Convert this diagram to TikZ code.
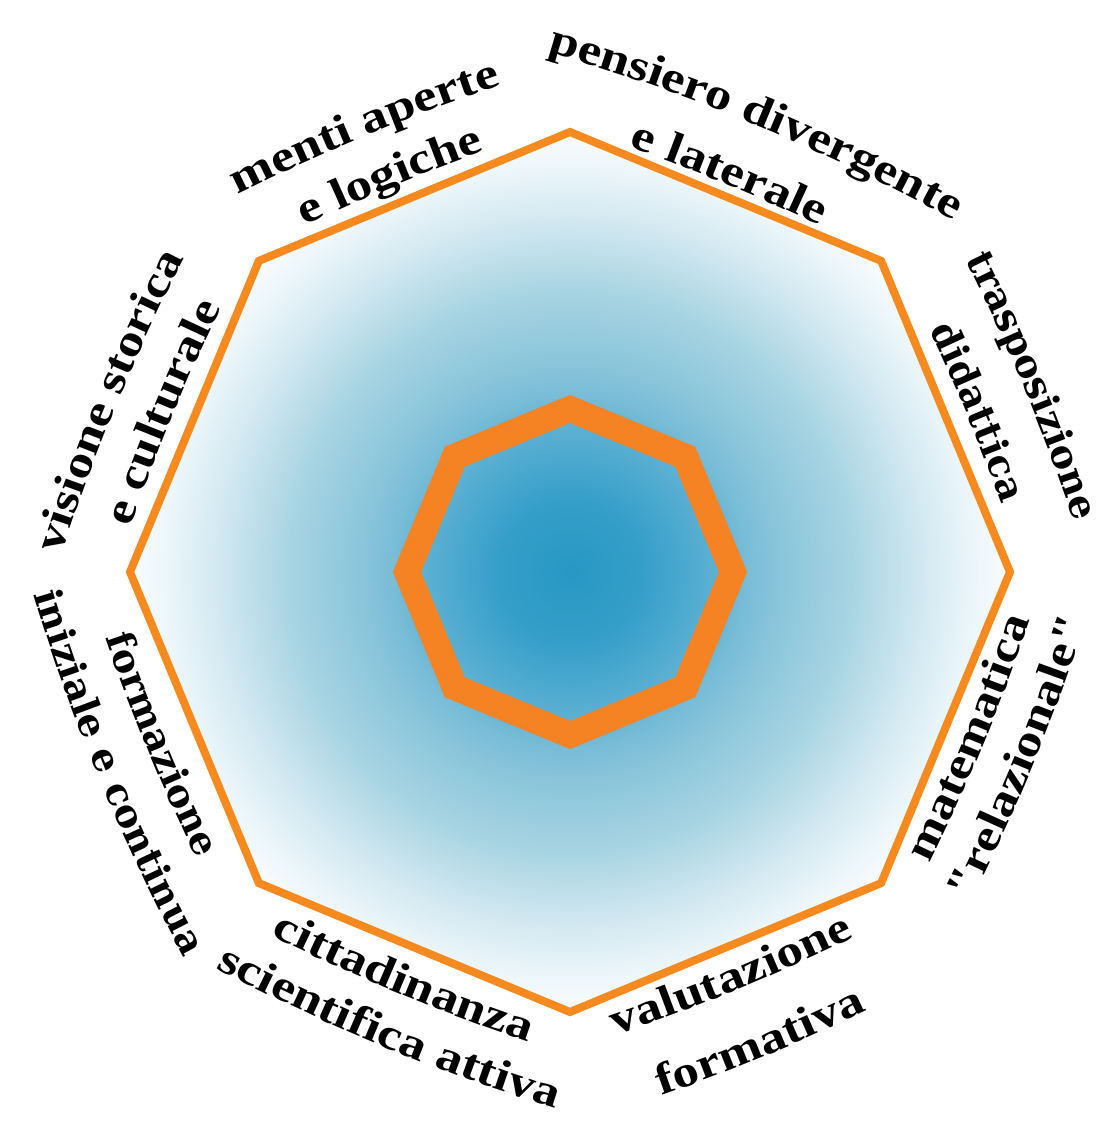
\documentclass[tikz,border=0pt]{standalone}
\usepackage{fontspec}
\usetikzlibrary{decorations.text}
\newfontfamily\labfontA[FakeStretch=1.2]{Liberation Serif}
\newfontfamily\labfontB{DejaVu Serif}
\newcommand\fA{\labfontA\bfseries\fontsize{44}{50}\selectfont}
\newcommand\fB{\labfontB\bfseries\fontsize{38}{44}\selectfont}
\definecolor{octorange}{RGB}{246,138,30}
\definecolor{innerorange}{RGB}{245,130,35}
\definecolor{shA}{RGB}{40,152,196}
\definecolor{shB}{RGB}{52,158,200}
\definecolor{shC}{RGB}{90,175,210}
\definecolor{shI}{RGB}{120,188,214}
\definecolor{shD}{RGB}{138,197,218}
\definecolor{shE}{RGB}{168,212,226}
\definecolor{shF}{RGB}{210,232,240}
\definecolor{shG}{RGB}{236,246,250}
\definecolor{shH}{RGB}{250,252,253}
\pgfdeclareradialshading{octshade}{\pgfpoint{0bp}{0bp}}{color(0bp)=(shA); color(4bp)=(shB); color(8bp)=(shC); color(10bp)=(shI); color(12bp)=(shD); color(16bp)=(shE); color(20bp)=(shF); color(23bp)=(shG); color(25bp)=(shH); color(50bp)=(white)}
\newcommand\rr{2000}
\newcommand\ph{9}
% upper labels: text runs clockwise, letter tops point outward
\newcommand\upperlabel[5]{%
  \begin{scope}[rotate=#1-90]
    \path[decorate, decoration={text along path, text align=center, text={|#4|#5}}]
      (#3, #2-\rr) ++(90+\ph:\rr) arc[start angle=90+\ph, end angle=90-\ph, radius=\rr];
  \end{scope}}
% lower labels: text runs counter-clockwise, letter tops point inward
\newcommand\lowerlabel[5]{%
  \begin{scope}[rotate=#1+90]
    \path[decorate, decoration={text along path, text align=center, text={|#4|#5}}]
      (#3, \rr-#2) ++(-90-\ph:\rr) arc[start angle=-90-\ph, end angle=-90+\ph, radius=\rr];
  \end{scope}}
\tikzset{
  outerline/.style={draw=octorange, line width=8pt, line join=miter},
  innerline/.style={draw=innerorange, line width=26pt, line join=miter},
}
\begin{document}
\begin{tikzpicture}[x=1pt,y=1pt]
\useasboundingbox (0,0) rectangle (1103,1126);
\fill[white] (0,0) rectangle (1103,1126);
\begin{scope}[shift={(570,554)}]
  \shade[shading=octshade] (90:440) -- (45:440) -- (0:440) -- (-45:440) -- (-90:440) -- (-135:440) -- (180:440) -- (135:440) -- cycle;
  \path[outerline] (90:440) -- (45:440) -- (0:440) -- (-45:440) -- (-90:440) -- (-135:440) -- (180:440) -- (135:440) -- cycle;
  \path[innerline] (90:163) -- (45:163) -- (0:163) -- (-45:163) -- (-90:163) -- (-135:163) -- (180:163) -- (135:163) -- cycle;
  % upper edges
  \upperlabel{67.5}{484}{0}{\fA}{pensiero divergente}
  \upperlabel{67.5}{418}{-5}{\fA}{e laterale}
  \upperlabel{112.5}{481}{-20}{\fA}{menti aperte}
  \upperlabel{112.5}{424}{-15}{\fA}{e logiche}
  \upperlabel{157.5}{483}{-18}{\fA}{visione storica}
  \upperlabel{157.5}{427}{-8}{\fA}{e culturale}
  \upperlabel{22.5}{490}{5}{\fB}{trasposizione}
  \upperlabel{22.5}{427}{8}{\fB}{didattica}
  % lower edges
  \lowerlabel{-22.5}{448}{0}{\fA}{matematica}
  \lowerlabel{-22.5}{502}{0}{\fA}{"relazionale"}
  \lowerlabel{-67.5}{450}{-6}{\fA}{valutazione}
  \lowerlabel{-67.5}{522}{-5}{\fA}{formativa}
  \lowerlabel{-112.5}{455}{2}{\fA}{cittadinanza}
  \lowerlabel{-112.5}{510}{8}{\fA}{scientifica attiva}
  \lowerlabel{-157.5}{458}{3}{\fB}{formazione}
  \lowerlabel{-157.5}{514}{12}{\fB}{iniziale e continua}
\end{scope}
\end{tikzpicture}
\end{document}
